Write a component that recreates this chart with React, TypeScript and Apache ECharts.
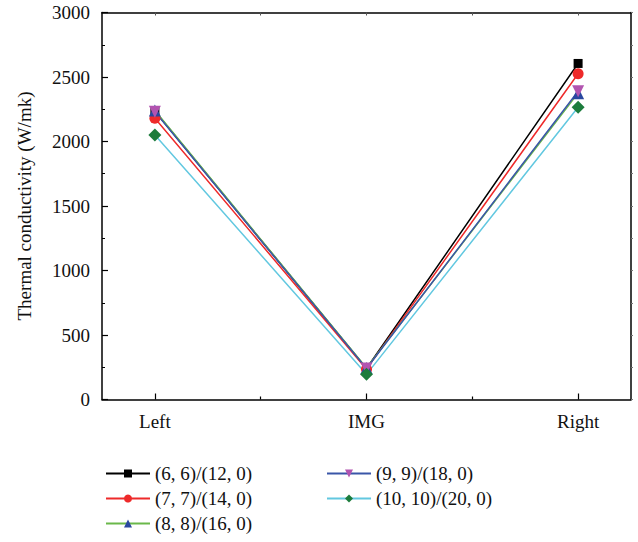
import React, { useEffect, useRef } from "react";
import * as echarts from "echarts";

const categories = ["Left", "IMG", "Right"];
const seriesNames = ["(6, 6)/(12, 0)", "(7, 7)/(14, 0)", "(8, 8)/(16, 0)", "(9, 9)/(18, 0)", "(10, 10)/(20, 0)"];
const s66 = [2235, 240, 2605];
const s77 = [2180, 235, 2525];
const s88 = [2240, 245, 2375];
const s99 = [2230, 240, 2390];
const s1010 = [2050, 195, 2265];

const lineColors = ["#000000", "#ee2a2a", "#6ab84a", "#3a56a8", "#62c8e0"];
const markerColors = ["#000000", "#ee2a2a", "#2a48a0", "#b254b0", "#1c7c3c"];
const symbols = ["rect", "circle", "triangle", "path://M0,0 L10,0 L5,9 Z", "diamond"];
const symbolSizes = [9, 11, 12, 12, 13];

const FONT = "Liberation Serif";

export default function App() {
  const ref = useRef<HTMLDivElement>(null);
  useEffect(() => {
    const chart = echarts.init(ref.current!, undefined, { renderer: "svg" });
    const all = [s66, s77, s88, s99, s1010];
    const series: any[] = all.map((vals, i) => ({
      name: seriesNames[i],
      type: "line",
      data: vals.map((v, j) => [j + 1, v]),
      symbol: symbols[i],
      symbolSize: symbolSizes[i],
      showAllSymbol: true,
      lineStyle: { color: lineColors[i], width: 1.5 },
      itemStyle: { color: markerColors[i], borderWidth: 0 },
      color: markerColors[i],
      emphasis: { disabled: true },
    }));
    const legendText = { fontFamily: FONT, fontSize: 19, color: "#111" };
    const legendBase = {
      orient: "vertical",
      top: 464,
      height: 90,
      padding: 0,
      itemWidth: 44,
      itemHeight: 10,
      itemGap: 6,
      textStyle: legendText,
    };
    chart.setOption({
      animation: false,
      grid: { left: 102, right: 7, top: 12.5, bottom: 142.5, containLabel: false },
      legend: [
        { ...legendBase, data: seriesNames.slice(0, 3), left: 105 },
        { ...legendBase, data: seriesNames.slice(3), left: 326 },
      ],
      xAxis: [
        {
          type: "value",
          min: 0.75,
          max: 3.25,
          position: "bottom",
          splitLine: { show: false },
          axisLine: { show: true, onZero: false, lineStyle: { color: "#000", width: 1.5 } },
          axisTick: { show: true, inside: true, length: 6, customValues: [1, 2, 3], lineStyle: { color: "#000", width: 1.2 } },
          axisLabel: {
            customValues: [1, 2, 3],
            formatter: (v: number) => categories[Math.round(v) - 1] ?? "",
            fontFamily: FONT,
            fontSize: 19,
            color: "#111",
            margin: 12,
          },
        },
        {
          type: "value",
          min: 0.75,
          max: 3.25,
          position: "top",
          splitLine: { show: false },
          axisLine: { show: true, onZero: false, lineStyle: { color: "#000", width: 1.5 } },
          axisTick: { show: true, inside: true, length: 3, customValues: [1, 1.5, 2, 2.5, 3], lineStyle: { color: "#555", width: 1 } },
          axisLabel: { show: false },
        },
        {
          type: "value",
          min: 0.75,
          max: 3.25,
          position: "bottom",
          splitLine: { show: false },
          axisLine: { show: false },
          axisTick: { show: true, inside: true, length: 3, customValues: [1.5, 2.5], lineStyle: { color: "#000", width: 1.2 } },
          axisLabel: { show: false },
        },
      ],
      yAxis: [
        {
          type: "value",
          min: 0,
          max: 3000,
          interval: 500,
          name: "Thermal conductivity (W/mk)",
          nameLocation: "middle",
          nameGap: 68,
          nameTextStyle: { fontFamily: FONT, fontSize: 19, color: "#111" },
          splitLine: { show: false },
          axisLine: { show: true, lineStyle: { color: "#000", width: 1.5 } },
          axisTick: { show: true, inside: true, length: 6, lineStyle: { color: "#000", width: 1.2 } },
          minorTick: { show: true, splitNumber: 2, length: 3, lineStyle: { color: "#000", width: 1 } },
          axisLabel: {
            formatter: (v: number) => String(v),
            fontFamily: FONT,
            fontSize: 19,
            color: "#111",
            margin: 12,
          },
        },
        {
          type: "value",
          min: 0,
          max: 3000,
          interval: 250,
          position: "right",
          splitLine: { show: false },
          axisLine: { show: true, lineStyle: { color: "#000", width: 1.5 } },
          axisTick: { show: true, inside: false, length: 2, lineStyle: { color: "#777", width: 1 } },
          axisLabel: { show: false },
        },
      ],
      series,
    });
    return () => chart.dispose();
  }, []);
  return <div ref={ref} style={{ width: 638, height: 542, position: "absolute", left: 0, top: 0 }} />;
}
